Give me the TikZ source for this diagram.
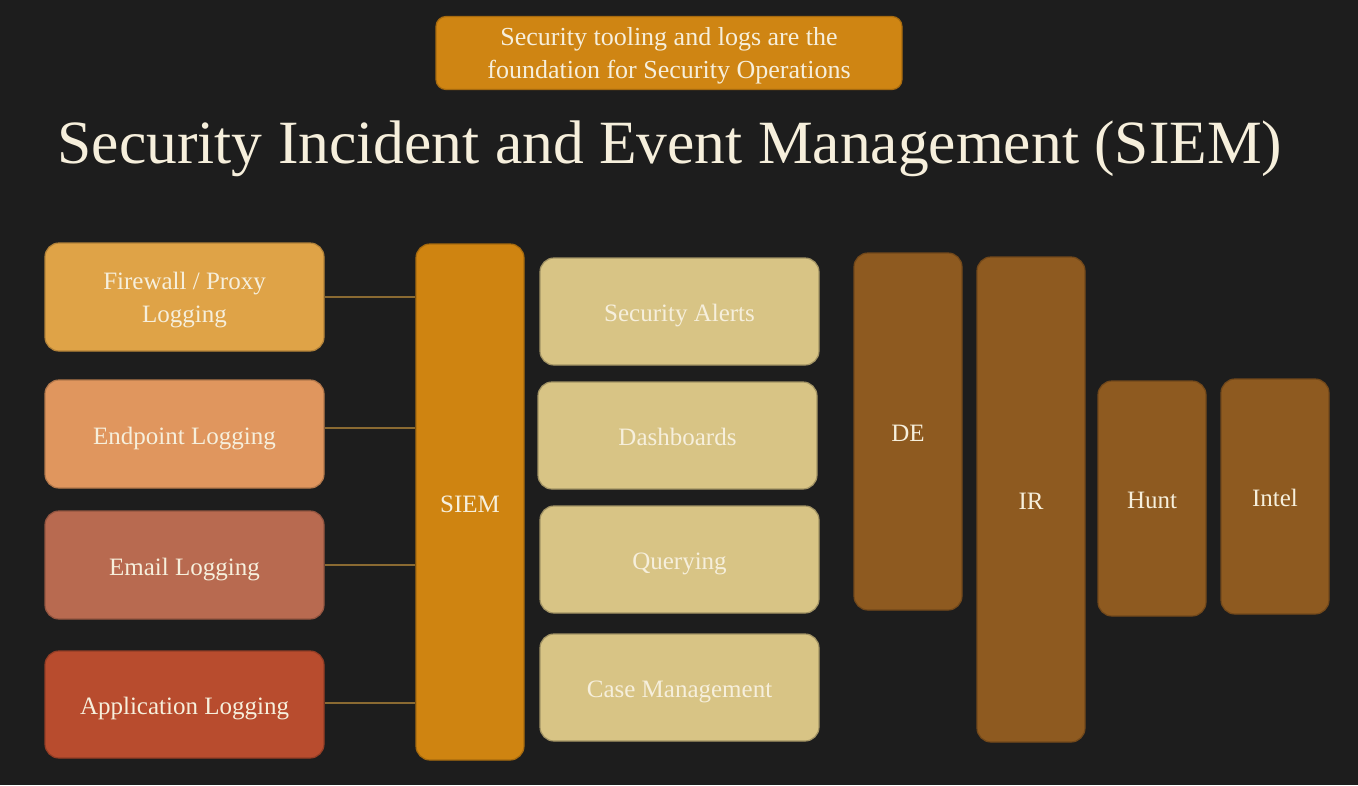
\documentclass[tikz,border=0pt]{standalone}
\usepackage{fontspec}
\setmainfont{Liberation Serif}
\begin{document}
\definecolor{bgdark}{HTML}{1D1D1D}
\definecolor{cream}{HTML}{F6EFDC}
\definecolor{bannerorange}{HTML}{CF8513}
\definecolor{fwcol}{HTML}{DFA347}
\definecolor{epcol}{HTML}{E0965E}
\definecolor{emcol}{HTML}{B86A50}
\definecolor{apcol}{HTML}{B84C2E}
\definecolor{siemcol}{HTML}{CF8411}
\definecolor{outcol}{HTML}{D8C485}
\definecolor{opscol}{HTML}{8E5A20}
\definecolor{linkcol}{HTML}{8A6A32}
\begin{tikzpicture}[x=1pt,y=-1pt,
  box/.style={rounded corners=14pt, inner sep=0pt, align=center, text=cream,
    font=\fontsize{25}{33}\selectfont, line width=1.2pt},
  oneline/.style={text height=20pt, text depth=0pt},
  twoline/.style={text depth=-1pt},
  source/.style={box, minimum width=279pt, minimum height=108pt},
  output/.style={box, oneline, fill=outcol, draw=outcol!75!black, minimum width=279pt, minimum height=107pt},
  ops/.style={box, oneline, fill=opscol, draw=opscol!80!black, minimum width=108pt},
  link/.style={draw=linkcol, line width=1.3pt}]
\useasboundingbox (0,0) rectangle (1358,785);
\fill[bgdark] (0,0) rectangle (1358,785);

% banner and heading
\node[box, twoline, fill=bannerorange, draw=bannerorange!80!black, rounded corners=10pt,
  minimum width=466pt, minimum height=73pt, font=\fontsize{26}{33}\selectfont]
  (banner) at (669,53) {Security tooling and logs are the\\foundation for Security Operations};
\node[anchor=base, text=cream, font=\fontsize{61.5}{66}\selectfont, inner sep=0pt]
  (title) at (670,163) {Security Incident and Event Management (SIEM)};

% log sources
\node[source, twoline, fill=fwcol, draw=fwcol!80!black] (fw) at (184.5,297) {Firewall / Proxy\\Logging};
\node[source, oneline, fill=epcol, draw=epcol!80!black] (ep) at (184.5,434) {Endpoint Logging};
\node[source, oneline, fill=emcol, draw=emcol!80!black] (em) at (184.5,565) {Email Logging};
\node[source, oneline, fill=apcol, draw=apcol!80!black, minimum height=107pt] (ap) at (184.5,704.5) {Application Logging};

% central SIEM
\node[box, oneline, fill=siemcol, draw=siemcol!80!black, minimum width=108pt, minimum height=516pt]
  (siem) at (470,502) {SIEM};

% SIEM outputs
\node[output] (sa) at (679.5,311.5) {Security Alerts};
\node[output] (db) at (677.5,435.5) {Dashboards};
\node[output] (qu) at (679.5,559.5) {Querying};
\node[output] (cm) at (679.5,687.5) {Case Management};

% operations functions
\node[ops, minimum height=357pt] (de) at (908,431.5) {DE};
\node[ops, minimum height=485pt] (ir) at (1031,499.5) {IR};
\node[ops, minimum height=235pt] (hu) at (1152,498.5) {Hunt};
\node[ops, minimum height=235pt] (in) at (1275,496.5) {Intel};

% feeds into the SIEM
\draw[link] (fw.east) -- (fw.east -| siem.west);
\draw[link] ([yshift=6pt]ep.east) -- ([yshift=6pt]ep.east -| siem.west);
\draw[link] (em.east) -- (em.east -| siem.west);
\draw[link] ([yshift=1.5pt]ap.east) -- ([yshift=1.5pt]ap.east -| siem.west);
\end{tikzpicture}
\end{document}
